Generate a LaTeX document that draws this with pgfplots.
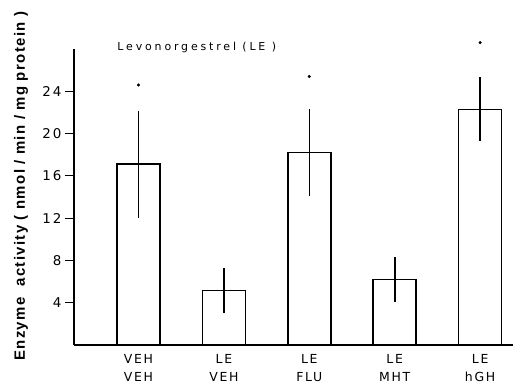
\documentclass[border=0pt]{standalone}
\usepackage{fontspec}
\setmainfont{Liberation Sans}
\usepackage{pgfplots}
\pgfplotsset{compat=1.18}
\newfontfamily\tickfont[LetterSpace=14]{DejaVu Sans}
\newfontfamily\titlefont[LetterSpace=26]{DejaVu Sans}
\newfontfamily\labfont[LetterSpace=9]{Liberation Sans}
\begin{document}
\begin{tikzpicture}
\begin{axis}[name=ax, scale only axis, width=439bp, height=296bp,
  xmin=-0.755, xmax=4.385, ymin=0, ymax=28, clip=false,
  axis x line=bottom, axis y line=left,
  axis line style={-, line width=1.6pt},
  ytick={4,8,...,24}, xtick={0,1,2,3,4},
  xticklabels={{VEH\\VEH},{LE\\VEH},{LE\\FLU},{LE\\MHT},{LE\\hGH}},
  xticklabel style={align=center, font=\tickfont\fontsize{12.5}{18}\selectfont, yshift=3bp},
  yticklabel style={font=\tickfont\fontsize{13.5}{16}\selectfont},
  /pgf/number format/assume math mode=true,
  tick align=outside, major tick length=9bp,
  x tick style={draw=none},
  y tick style={line width=1.2pt, black},
]
\addplot[ybar, bar width=43bp, fill=white, draw=black, line width=1.5pt,
  error bars/.cd, y dir=both, y explicit, error mark=none,
  error bar style={line width=1.6pt, black}]
  coordinates {(0,17.1) +- (0,5.05) (1,5.15) +- (0,2.1) (2,18.2) +- (0,4.1) (3,6.2) +- (0,2.1) (4,22.3) +- (0,3.05)};
\addplot[only marks, mark=*, mark size=1.3bp, black]
  coordinates {(0,24.6) (2,25.4) (4,28.6)};
\node[anchor=base west, font=\titlefont\fontsize{11}{13}\selectfont] at (axis cs:-0.287,27.9) {Levonorgestrel (LE )};
\node[rotate=90, anchor=base, font=\labfont\bfseries\fontsize{15}{17}\selectfont] at (axis cs:-1.329,15.02) {Enzyme\ \ activity ( nmol / min / mg protein )};
\end{axis}
\pgfresetboundingbox
\path ([xshift=-74bp,yshift=-40bp]ax.south west) rectangle ([xshift=2bp,yshift=49bp]ax.north east);
\end{tikzpicture}
\end{document}
